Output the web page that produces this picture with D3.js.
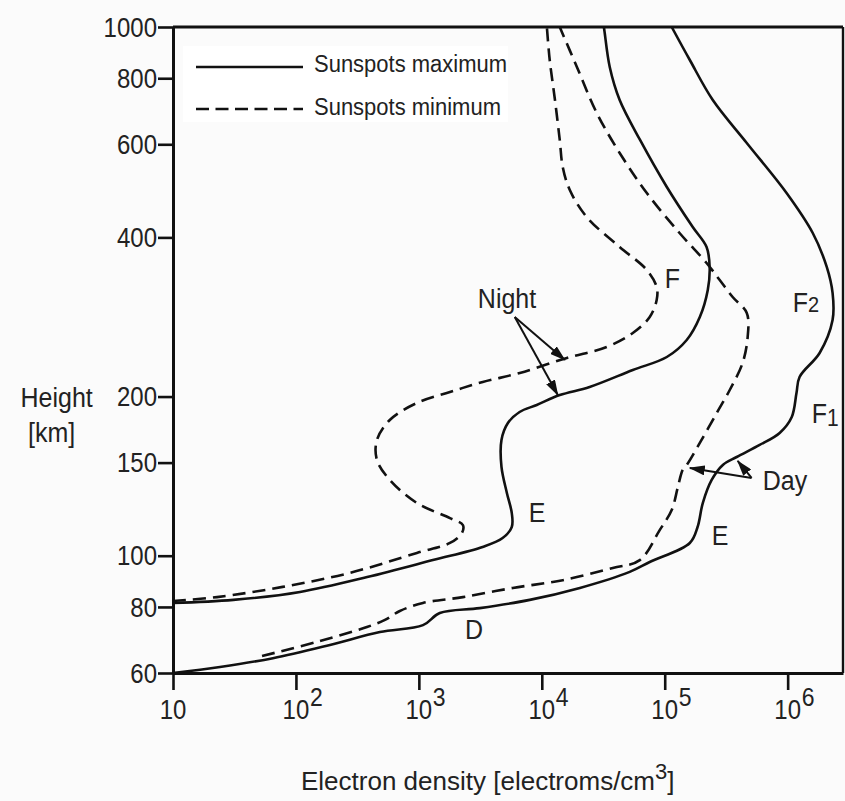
<!DOCTYPE html>
<html><head><meta charset="utf-8">
<script src="https://cdn.jsdelivr.net/npm/d3@7"></script>
<style>
html,body{margin:0;padding:0;background:#fbfbfb;}
svg{display:block;font-family:"Liberation Sans",Arial,Helvetica,sans-serif;}
</style></head><body>
<svg id="chart" width="845" height="801"></svg>
<script>
// ---- data (electron density [el/cm3], height [km]) ----
const nightMaxDensity = [10, 31, 108, 380, 1300, 3300, 4800, 5700, 5700, 5200, 4700, 4700, 5300, 6600, 9100, 1.4e4, 2.45e4, 5.5e4, 1.04e5, 1.51e5, 1.93e5, 2.24e5, 2.32e5, 2.19e5, 1.69e5, 1.04e5, 6.3e4, 4.3e4, 3.57e4, 3.25e4, 3.2e4];
const nightMaxHeight  = [81.4, 82.5, 85.4, 91.1, 98.1, 103.9, 108, 113.3, 120.4, 131.4, 147.2, 165.5, 178.2, 187, 192.8, 201.3, 208.5, 224.5, 237.6, 255.9, 282.8, 318.2, 351.7, 383.6, 418.4, 498.2, 611.4, 727.6, 840.2, 974.3, 1000];

const nightMinDensity = [10, 22.8, 78, 275, 964, 1790, 2240, 2280, 1790, 964, 580, 456, 456, 580, 964, 1790, 3310, 6620, 1.6e4, 3.37e4, 5.5e4, 7.55e4, 8.6e4, 8.6e4, 7.15e4, 4.3e4, 2.32e4, 1.69e4, 1.48e4, 1.4e4, 1.28e4, 1.16e4, 1.1e4];
const nightMinHeight  = [82.1, 83.5, 87.3, 92.8, 101.2, 105.7, 110.4, 114.3, 117.8, 125.8, 139.1, 151.7, 165.5, 180.6, 194.5, 204, 213.1, 221.6, 236.6, 248.2, 263.8, 282.8, 304.5, 322.3, 347.1, 383.6, 437.1, 491.7, 543.5, 611.4, 727.6, 866.1, 1000];

const dayMaxDensity = [10, 24.1, 65, 189, 482, 1080, 1480, 3130, 7980, 2.04e4, 5.19e4, 7.55e4, 1.6e5, 1.85e5, 2.04e5, 2.41e5, 2.97e5, 3.85e5, 5.92e5, 8.61e5, 1.08e6, 1.18e6, 1.25e6, 1.82e6, 2.32e6, 2.32e6, 2.08e6, 1.6e6, 9.8e5, 4.65e5, 2.46e5, 1.6e5, 1.14e5];
const dayMaxHeight  = [60, 61.6, 64, 67.8, 71.7, 73.9, 77.9, 79.6, 82.5, 86.9, 93.2, 97.3, 105.7, 113.3, 125.8, 139.1, 148.5, 153.7, 162, 170.7, 183, 203.1, 217.8, 241.8, 279.1, 314, 351.7, 407.7, 485.3, 603.4, 727.6, 866.1, 1000];

const dayMinDensity = [53, 148, 378, 530, 700, 1080, 2280, 5810, 1.48e4, 3.78e4, 6.27e4, 9.1e4, 1.14e5, 1.28e5, 1.4e5, 1.51e5, 1.93e5, 2.65e5, 3.38e5, 4.3e5, 4.73e5, 4.65e5, 3.57e5, 2.8e5, 2.19e5, 1.32e5, 7.15e4, 4.3e4, 2.8e4, 1.93e4, 1.4e4];
const dayMinHeight  = [64.6, 68.7, 73.3, 75.6, 78.6, 81.4, 83.5, 86.9, 89.9, 94.8, 98.1, 111.8, 122, 134.9, 145.3, 148.5, 163.4, 186.2, 205.8, 231.5, 259.3, 287.7, 308.5, 332.2, 357.8, 407.7, 485.3, 577.8, 687.6, 840.2, 1000];

// axis ticks
const yTicks = [60, 80, 100, 150, 200, 400, 600, 800, 1000];
const xTicks = [10, 1e2, 1e3, 1e4, 1e5, 1e6];
const xTickExponents = ["", "2", "3", "4", "5", "6"];

// annotations: [label, density, height]
const labelNames    = ["F", "Night", "E", "F", "Day", "E", "D"];
const labelDensity  = [1e5, 3020, 7830, 1.1e6, 6.27e5, 2.41e5, 2370];
const labelHeight   = [320.8, 294.1, 115.8, 289.1, 133.1, 104.8, 69.6];
const labelSub      = ["", "", "", "2", "", "", ""];
const f1Label = ["F", "1", 1.567e6, 178.2];

// arrows: from -> to (density, height)
const arrowFromDensity = [6026, 6026, 5.09e5, 5.09e5];
const arrowFromHeight  = [282.8, 282.8, 140.3, 140.3];
const arrowToDensity   = [1.54e4, 1.35e4, 1.6e5, 3.92e5];
const arrowToHeight    = [234.6, 201.3, 146.5, 151.1];

// ---- drawing ----
const svg = d3.select("#chart");
const x = d3.scaleLog().domain([10, 2.82e6]).range([173, 843]);
const y = d3.scaleLog().domain([60, 1000]).range([673, 27]);
const S = 1.12; // vertical text stretch
const TXT = "#222";

function addText(g, px, py, str, size, anchor) {
  return g.append("text")
    .attr("transform", `translate(${px},${py}) scale(1,${S})`)
    .attr("font-size", size).attr("text-anchor", anchor || "start")
    .attr("fill", TXT).text(str);
}

svg.append("rect").attr("width", 845).attr("height", 801).attr("fill", "#fbfbfb");

// axes
const gy = svg.append("g").attr("transform", `translate(${x(10)},0)`)
  .call(d3.axisLeft(y).tickValues(yTicks).tickFormat("").tickSize(15).tickSizeOuter(0));
const gx = svg.append("g").attr("transform", `translate(0,${y(60)})`)
  .call(d3.axisBottom(x).tickValues(xTicks).tickFormat("").tickSize(17).tickSizeOuter(0));
[gy, gx].forEach(g => {
  g.select(".domain").attr("stroke", "#111").attr("stroke-width", 3);
  g.selectAll(".tick line").attr("stroke", "#111").attr("stroke-width", 2.6);
});
// frame top & right
svg.append("line").attr("x1", x(10)).attr("x2", x.range()[1]).attr("y1", y(1000)).attr("y2", y(1000))
  .attr("stroke", "#111").attr("stroke-width", 3);
svg.append("line").attr("x1", x.range()[1]).attr("x2", x.range()[1]).attr("y1", y(1000)).attr("y2", y(60))
  .attr("stroke", "#111").attr("stroke-width", 2.4);

// y tick labels
const labG = svg.append("g");
yTicks.forEach(v => addText(labG, x(10) - 16, y(v) + 9.6, String(v), 24, "end"));
// x tick labels
xTicks.forEach((v, i) => {
  const cx = x(v);
  addText(labG, cx, y(60) + 46, "10", 24, "middle");
  if (xTickExponents[i]) addText(labG, cx + 14, y(60) + 33, xTickExponents[i], 23, "start");
});

// axis titles
addText(labG, 20.5, 406.5, "Height", 25, "start");
addText(labG, 28, 441.5, "[km]", 25, "start");
const xt = svg.append("text").attr("x", 301).attr("y", 790).attr("font-size", 26).attr("fill", TXT);
xt.append("tspan").text("Electron density [electroms/cm");
xt.append("tspan").attr("dy", -11).attr("font-size", 22).text("3");
xt.append("tspan").attr("dy", 11).text("]");

// curves
const line = d3.line().x(d => x(d[0])).y(d => y(d[1])).curve(d3.curveCatmullRom.alpha(0.5));
const curves = [
  [nightMaxDensity, nightMaxHeight, null],
  [nightMinDensity, nightMinHeight, "13,7"],
  [dayMaxDensity, dayMaxHeight, null],
  [dayMinDensity, dayMinHeight, "13,7"]
];
const cg = svg.append("g");
curves.forEach(([dx, hy, dash]) => {
  cg.append("path").datum(d3.zip(dx, hy)).attr("d", line)
    .attr("fill", "none").attr("stroke", "#111").attr("stroke-width", 2.6)
    .attr("stroke-linejoin", "round")
    .attr("stroke-dasharray", dash);
});

// arrows
const defs = svg.append("defs");
defs.append("marker").attr("id", "ah").attr("markerUnits", "userSpaceOnUse")
  .attr("viewBox", "0 0 16 10").attr("refX", 15).attr("refY", 5)
  .attr("markerWidth", 16).attr("markerHeight", 10).attr("orient", "auto")
  .append("path").attr("d", "M0,0 L16,5 L0,10 Z").attr("fill", "#111");
const ag = svg.append("g");
arrowFromDensity.forEach((d, i) => {
  ag.append("line")
    .attr("x1", x(d)).attr("y1", y(arrowFromHeight[i]))
    .attr("x2", x(arrowToDensity[i])).attr("y2", y(arrowToHeight[i]))
    .attr("stroke", "#111").attr("stroke-width", 2).attr("marker-end", "url(#ah)");
});

// annotation labels
labelNames.forEach((t, i) => {
  const tx = addText(labG, x(labelDensity[i]), y(labelHeight[i]), "", 25, "start");
  tx.append("tspan").text(t);
  if (labelSub[i]) tx.append("tspan").attr("font-size", 20).text(labelSub[i]);
});
{
  const tx = addText(labG, x(f1Label[2]), y(f1Label[3]), "", 25, "start");
  tx.append("tspan").text(f1Label[0]);
  tx.append("tspan").attr("font-size", 21).attr("dy", 3).text(f1Label[1]);
}

// legend
const lg = svg.append("g");
lg.append("rect").attr("x", 183).attr("y", 46).attr("width", 325).attr("height", 76).attr("fill", "#ffffff");
lg.append("line").attr("x1", 196).attr("x2", 303).attr("y1", 67).attr("y2", 67)
  .attr("stroke", "#111").attr("stroke-width", 2.6);
lg.append("line").attr("x1", 196).attr("x2", 303).attr("y1", 109).attr("y2", 109)
  .attr("stroke", "#111").attr("stroke-width", 2.6).attr("stroke-dasharray", "13,6.5");
addText(lg, 314, 72, "Sunspots maximum", 22, "start");
addText(lg, 314, 115, "Sunspots minimum", 22, "start");
</script>
</body></html>
